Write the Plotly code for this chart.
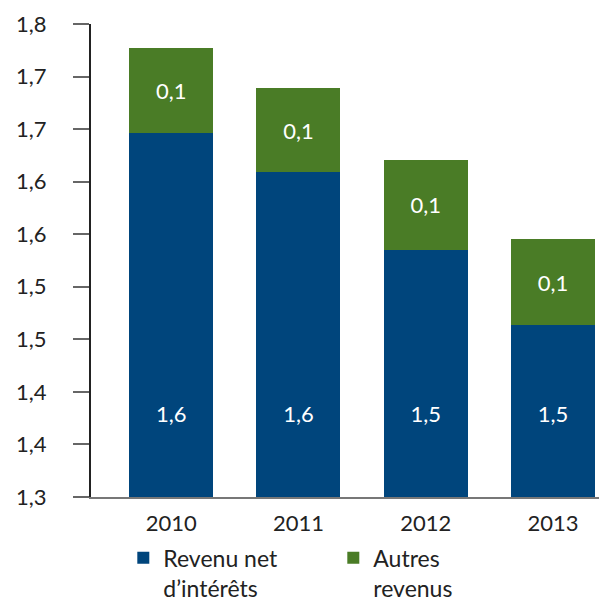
import plotly.graph_objects as go

years = ["2010", "2011", "2012", "2013"]
revenu_net = [1.646, 1.609, 1.535, 1.464]
autres = [0.081, 0.080, 0.086, 0.081]
tick_vals = [1.30, 1.35, 1.40, 1.45, 1.50, 1.55, 1.60, 1.65, 1.70, 1.75]
tick_labels = ["1,3", "1,4", "1,4", "1,5", "1,5", "1,6", "1,6", "1,7", "1,7", "1,8"]
label_y = 1.377

BLUE = "#00457c"
GREEN = "#4a7c26"
FONT = "Lato"
TXT = "#222222"
FS = 22

x = list(range(len(years)))

fig = go.Figure()
fig.add_trace(go.Bar(
    x=x, y=revenu_net, name="Revenu net<br>d’intérêts",
    marker=dict(color=BLUE, line=dict(width=0)),
    hoverinfo="y",
))
fig.add_trace(go.Bar(
    x=x, y=autres, name="Autres<br>revenus",
    marker=dict(color=GREEN, line=dict(width=0)),
    texttemplate="%{y:.1f}", textposition="inside", insidetextanchor="middle",
    textfont=dict(color="white", size=FS, family=FONT),
    hoverinfo="y",
))
fig.add_trace(go.Scatter(
    x=x, y=[label_y] * len(x), mode="text",
    text=[f"{v:.1f}".replace(".", ",") for v in revenu_net],
    textfont=dict(color="white", size=FS, family=FONT),
    showlegend=False, hoverinfo="skip",
))

# page body has an 8px margin, so the figure is sized 599x596 to fill the window
fig.update_layout(
    width=599, height=596,
    margin=dict(l=83, r=0, t=16, b=107, autoexpand=False),
    barmode="stack", bargap=0.34,
    separators=", ",
    plot_bgcolor="white", paper_bgcolor="white",
    font=dict(family=FONT, size=FS, color=TXT),
    legend=dict(
        orientation="h", xref="container", yref="container",
        x=0.1925, y=0.1135, xanchor="left", yanchor="top",
        entrywidth=165, entrywidthmode="pixels",
        valign="top", font=dict(size=23, family=FONT, color=TXT),
        traceorder="normal", itemclick=False,
    ),
)
fig.update_xaxes(
    range=[-0.63, 3.425], tickvals=x, ticktext=years,
    showline=True, linecolor="#777777", linewidth=2,
    ticks="", showgrid=False, zeroline=False, automargin=False,
    ticklabelstandoff=6, tickfont=dict(size=FS, family=FONT, color=TXT),
)
fig.update_yaxes(
    range=[1.30, 1.75], tickvals=tick_vals, ticktext=tick_labels,
    showline=True, linecolor="#222222", linewidth=2,
    ticks="outside", ticklen=16, tickcolor="#666666", tickwidth=2,
    showgrid=False, zeroline=False, automargin=False,
    ticklabelstandoff=22, tickfont=dict(size=FS, family=FONT, color=TXT),
)

fig.write_html("out.html")
